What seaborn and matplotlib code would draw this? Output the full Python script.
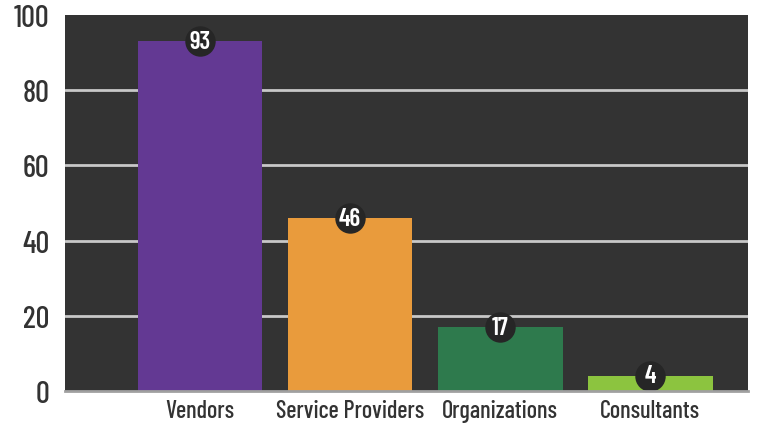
import matplotlib
matplotlib.use("Agg")
import matplotlib.pyplot as plt
import seaborn as sns
import pandas as pd

# values
categories = ["Vendors", "Service Providers", "Organizations", "Consultants"]
counts = [93, 46, 17, 4]
bar_colors = ["#633993", "#E99B3C", "#2E7A4D", "#8CC43F"]
y_ticks = [0, 20, 40, 60, 80, 100]

sns.set_style("dark")
plt.rcParams['font.family'] = ['Barlow Condensed', 'DejaVu Sans']

df = pd.DataFrame({"category": categories, "count": counts})

fig = plt.figure(figsize=(7.64, 4.35), dpi=100)
ax = fig.add_axes([0.085, 0.099, 0.894, 0.864])
ax.set_facecolor("#333333")

sns.barplot(data=df, x="category", y="count", hue="category",
            palette=bar_colors, legend=False, width=0.83,
            saturation=1, linewidth=0, ax=ax, zorder=2)

# light grid lines behind the bars (none at the top edge)
for t in y_ticks[1:-1]:
    ax.axhline(t, color="#c8c8c8", linewidth=2, zorder=1)

# value badges on top of each bar
for i, v in enumerate(counts):
    ax.scatter(i, v, s=480, color="#262626", zorder=3, linewidths=0)
    ax.text(i, v, str(v), color="white", fontsize=18, fontweight="semibold",
            ha="center", va="center", zorder=4)

ax.set_ylim(0, 100)
ax.set_xlim(-0.9, 3.65)
ax.set_yticks(y_ticks)
ax.set_xlabel("")
ax.set_ylabel("")
ax.tick_params(axis="y", labelsize=22, length=0, pad=11, labelcolor="#333333")
ax.tick_params(axis="x", labelsize=17.5, length=0, pad=6, labelcolor="#333333")
for lab in ax.get_xticklabels() + ax.get_yticklabels():
    lab.set_fontweight("medium")

for side in ["top", "right", "left"]:
    ax.spines[side].set_visible(False)
ax.spines["bottom"].set_color("#a0a0a0")
ax.spines["bottom"].set_linewidth(2)
ax.spines["bottom"].set_zorder(5)

fig.savefig("out.png", dpi=100, facecolor="white")
